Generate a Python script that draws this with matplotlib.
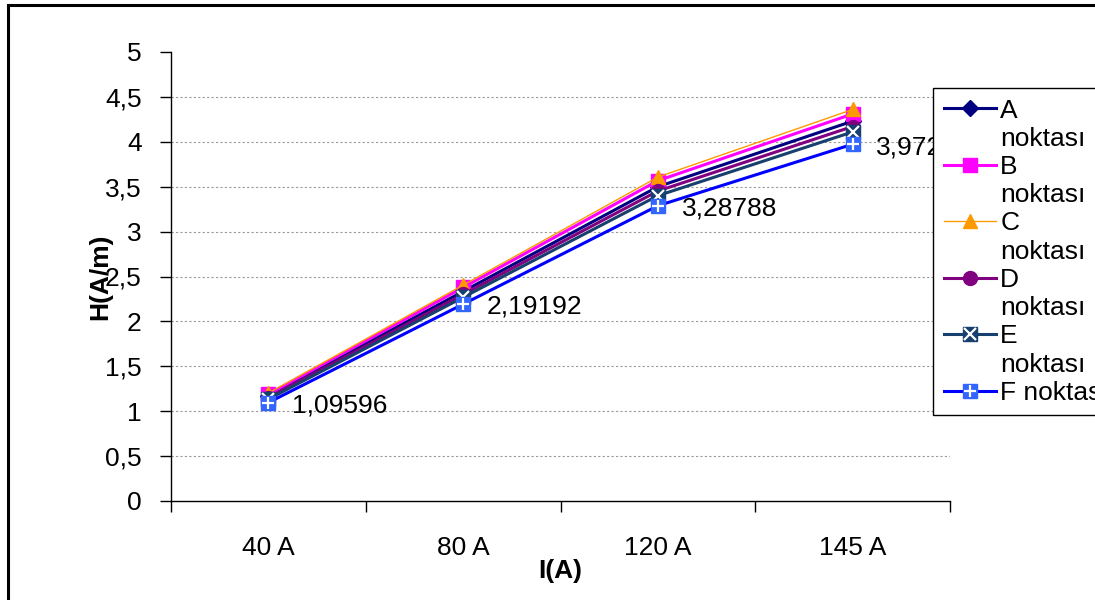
"""
H(A/m) - I(A) grafiği: A..F noktalarında manyetik alan şiddeti
"""

import matplotlib
matplotlib.use('Agg')
import matplotlib.pyplot as plt
from matplotlib.lines import Line2D
from matplotlib.patches import Rectangle
from matplotlib.ticker import FuncFormatter, FixedLocator

# ========== font ==========
matplotlib.rcParams['font.family'] = ['Liberation Sans', 'DejaVu Sans']
matplotlib.rcParams['font.size'] = 19

# ========== data ==========
categories = ['40 A', '80 A', '120 A', '145 A']
a_values = [1.167, 2.334, 3.500, 4.230]
b_values = [1.189, 2.378, 3.567, 4.310]
c_values = [1.202, 2.404, 3.607, 4.360]
d_values = [1.151, 2.301, 3.452, 4.170]
e_values = [1.134, 2.268, 3.400, 4.110]
f_values = [1.09596, 2.19192, 3.28788, 3.972855]
series_names = ['A', 'B', 'C', 'D', 'E', 'F']

FS = 19


def comma(v, pos=None):
    s = f'{v:g}'
    return s.replace('.', ',')


def main():
    fig = plt.figure(figsize=(10.95, 6.0), dpi=100)
    ax = fig.add_axes([171 / 1095, 1 - 501 / 600, 779 / 1095, 449 / 600])
    x = list(range(len(categories)))

    # (values, color, marker, markersize, linewidth, marker face, overlay marker)
    styles = [
        (a_values, '#000080', 'D', 8.5, 2.2, '#000080', None),
        (b_values, '#FF00FF', 's', 9.5, 2.2, '#FF00FF', None),
        (c_values, '#FF9900', '^', 10, 1.0, '#FF9900', None),
        (d_values, '#800080', 'o', 10, 2.2, '#800080', None),
        (e_values, '#18406E', 's', 9.5, 2.2, '#18406E', 'x'),
        (f_values, '#0000FF', 's', 9.5, 2.2, '#3366FF', '+'),
    ]

    handles = []
    labels = []
    for i, (vals, col, mk, ms, lw, face, over) in enumerate(styles):
        ax.plot(x, vals, color=col, linewidth=lw, marker=mk, markersize=ms,
                markerfacecolor=face, markeredgecolor=face, zorder=3 + i,
                clip_on=False)
        h = Line2D([], [], color=col, linewidth=lw, marker=mk, markersize=ms,
                   markerfacecolor=face, markeredgecolor=face)
        if over:
            ax.plot(x, vals, linestyle='none', marker=over, markersize=ms * 0.85,
                    markeredgecolor='white', markeredgewidth=1.6, zorder=3 + i,
                    clip_on=False)
            h2 = Line2D([], [], linestyle='none', marker=over, markersize=ms * 0.85,
                        markeredgecolor='white', markeredgewidth=1.6)
            h = (h, h2)
        handles.append(h)
        if series_names[i] == 'F':
            labels.append('F noktası')
        else:
            labels.append(series_names[i])
            handles.append(Line2D([], [], linestyle='none'))
            labels.append('noktası')

    # data labels on F
    for xi, v in zip(x, f_values):
        ax.annotate(comma(v), (xi, v), xytext=(17, -2), textcoords='offset points',
                    ha='left', va='center', fontsize=FS, zorder=10)

    # axes
    ax.set_xlim(-0.5, 3.5)
    ax.set_ylim(0, 5)
    ax.set_yticks([i * 0.5 for i in range(11)])
    ax.yaxis.set_major_formatter(FuncFormatter(comma))
    ax.xaxis.set_major_locator(FixedLocator([-0.5, 0.5, 1.5, 2.5, 3.5]))
    ax.xaxis.set_major_formatter(FuncFormatter(lambda v, p: ''))
    ax.xaxis.set_minor_locator(FixedLocator(x))
    ax.set_xticklabels(categories, minor=True)
    ax.tick_params(axis='x', which='minor', length=0, pad=25, labelsize=FS)
    ax.tick_params(axis='x', which='major', length=8, width=1, direction='out')
    ax.tick_params(axis='y', length=8, width=1, direction='out', pad=13, labelsize=FS)

    for s in ['top', 'right']:
        ax.spines[s].set_visible(False)
    ax.spines['left'].set_linewidth(1)
    ax.spines['bottom'].set_linewidth(1)

    for yv in [i * 0.5 for i in range(1, 10)]:
        ax.axhline(yv, color='#9a9a9a', linewidth=0.8, linestyle=(0, (2, 2)), zorder=1)

    ax.set_xlabel('I(A)', fontsize=FS, fontweight='bold')
    ax.xaxis.set_label_coords(0.5, -0.13)
    ax.set_ylabel('H(A/m)', fontsize=FS, fontweight='bold')
    ax.yaxis.set_label_coords(-0.076, 0.5)

    leg = fig.legend(handles, labels, loc='upper left',
                     bbox_to_anchor=(933 / 1095, 1 - 88 / 600),
                     borderaxespad=0, borderpad=0.4, labelspacing=0.16,
                     handlelength=2.0, handletextpad=0.15, fontsize=FS,
                     fancybox=False, framealpha=1, edgecolor='black')
    leg.get_frame().set_linewidth(1)
    leg.set_zorder(20)

    # outer chart border
    fig.patches.append(Rectangle((8 / 1095, -0.05), 1.2, 1.05 - 5 / 600,
                                 transform=fig.transFigure, fill=False,
                                 edgecolor='black', linewidth=2.2, zorder=30))

    fig.savefig('out.png', dpi=100)
    plt.close(fig)


if __name__ == '__main__':
    main()
